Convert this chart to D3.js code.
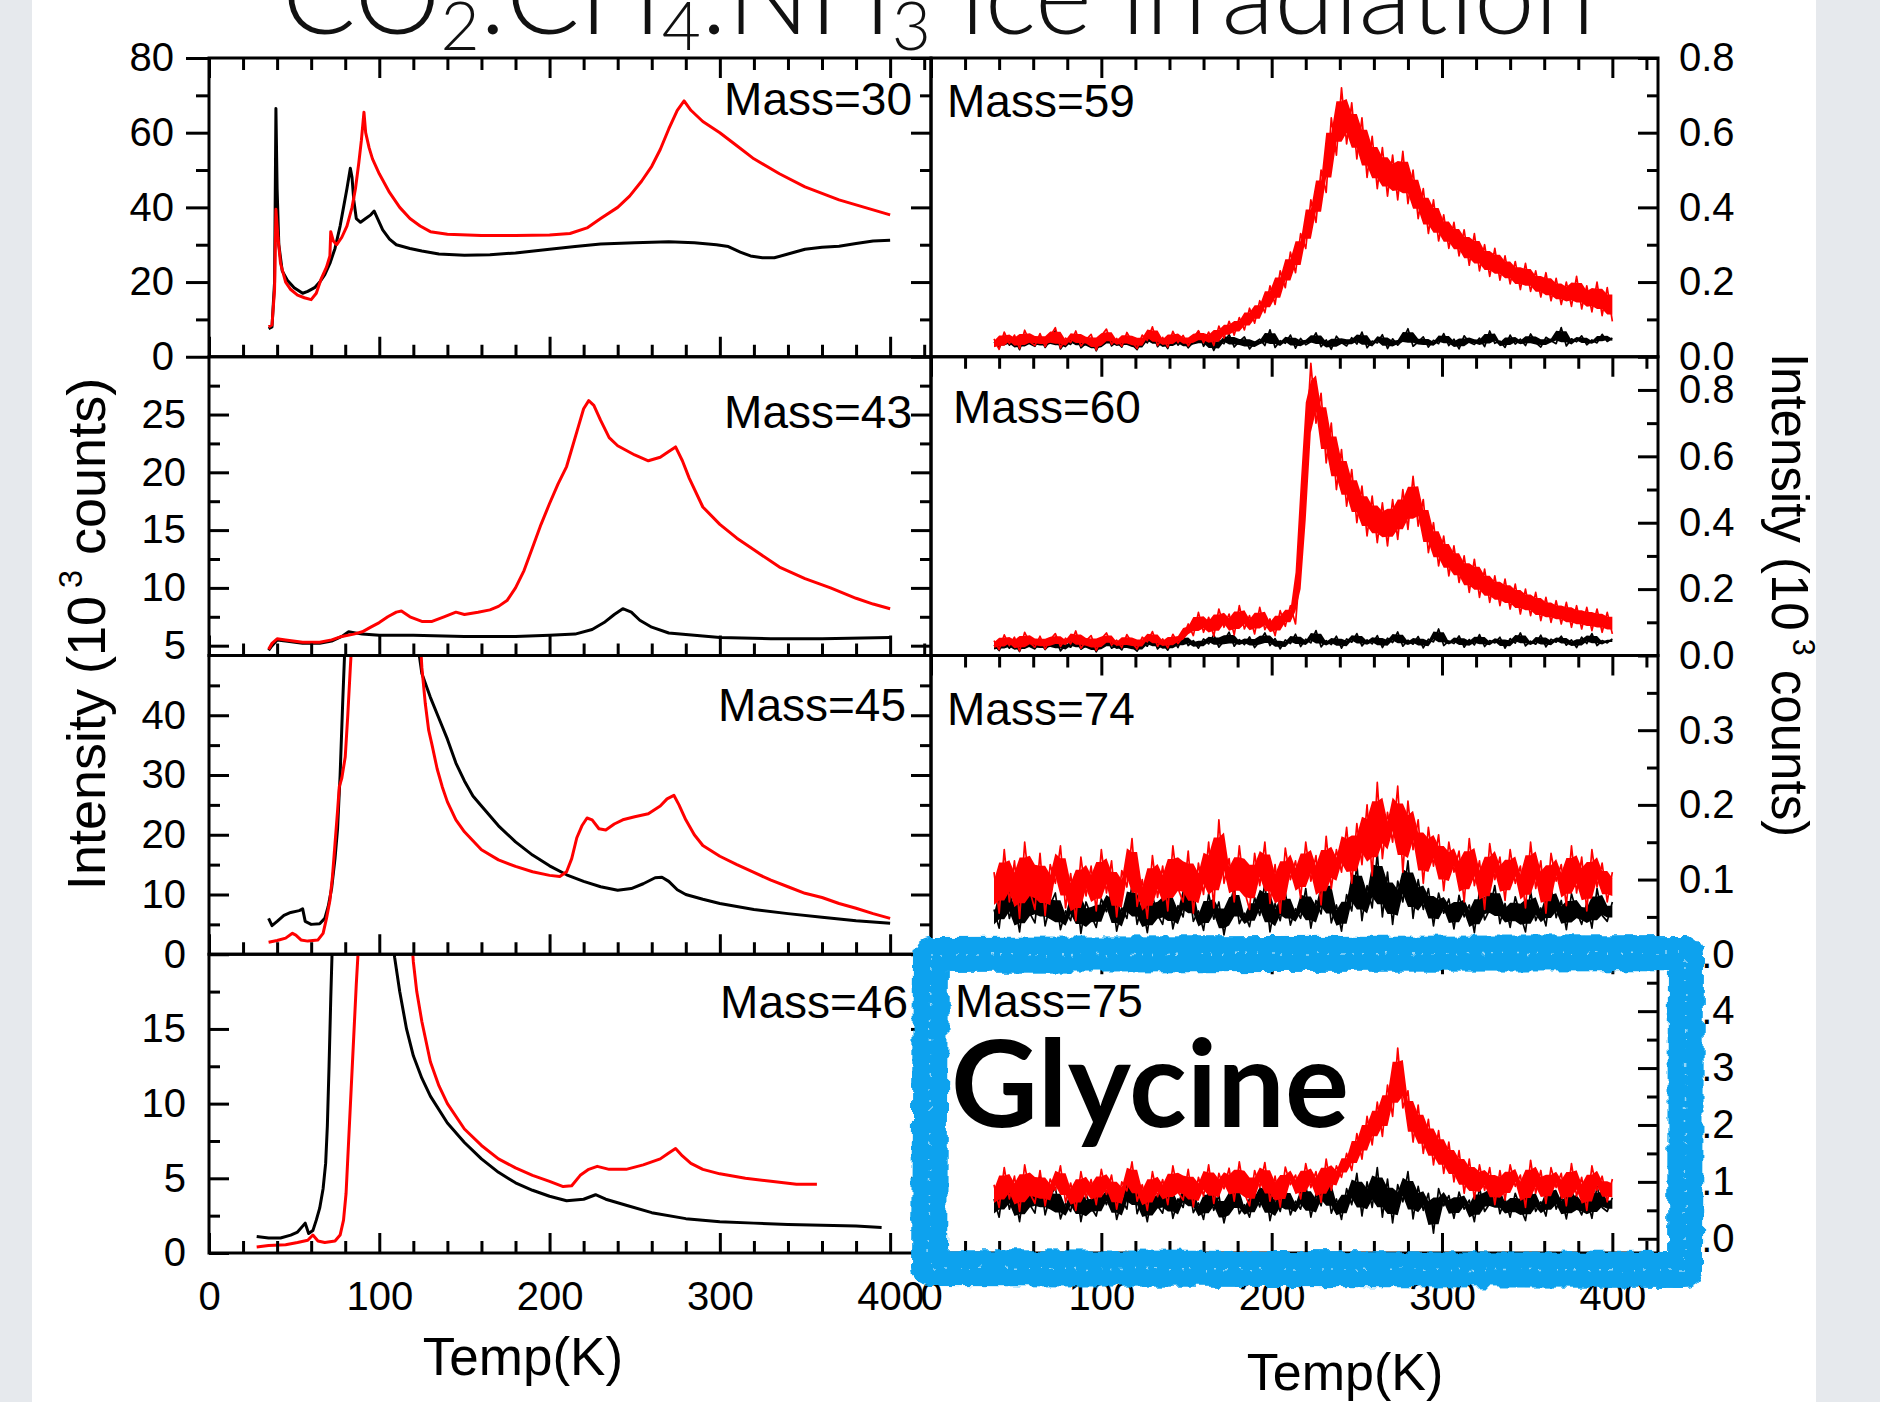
<!DOCTYPE html>
<html>
<head>
<meta charset="utf-8">
<script src="https://cdn.jsdelivr.net/npm/d3@7"></script>
<style>
  body { margin: 0; background: #fff; }
  svg { display: block; }
</style>
</head>
<body>
<div id="chart"></div>
<script>
// ---- data (intensity in 10^3 counts, temperature in K) ----

// left column: [T, intensity] pairs
var m30Black = [[35,7.5],[37,8],[38.5,20],[39.3,66.5],[40,45],[41,30],[43,23],[46,20.5],[50,18.5],[55,17],[58,17.5],[62,18.5],[65,20],[68,22],[71,25],[74,29],[77,35],[79,40],[81,45],[83,50.5],[84,48],[85,42],[86.5,37],[89,36],[92,37],[95,38],[97,39],[99,37],[102,34],[106,31.5],[110,30],[118,29],[125,28.3],[135,27.5],[150,27.2],[165,27.3],[180,27.8],[200,28.8],[215,29.5],[230,30.2],[250,30.5],[270,30.8],[285,30.5],[298,30],[305,29.5],[312,28],[318,27],[325,26.5],[332,26.5],[340,27.5],[350,28.8],[360,29.3],[370,29.6],[380,30.3],[390,31],[400,31.2]];
var m30Red = [[35,8],[37,8.5],[38.5,18],[39.3,39.5],[40.5,32],[42,25],[45,20],[48,18],[52,16.5],[56,15.8],[60,15.3],[63,17],[66,21],[69,24],[71,27],[71.5,33.5],[73,31],[75,30],[78,32],[81,35],[84,40],[86,45],[88,52],[89.5,58],[91,65.5],[92,60],[94,56],[96,53],[100,49],[106,44],[112,40],[118,37],[124,35],[130,33.5],[140,32.8],[160,32.5],[180,32.5],[200,32.6],[212,33],[222,34.5],[230,37],[240,40],[247,43],[254,47],[260,51],[265,55.5],[270,61],[275,66],[279,68.5],[283,66],[290,63],[300,60],[310,56.5],[320,53],[335,49],[350,45.5],[370,42],[385,40],[400,38]];

var m43Black = [[35,4.6],[37,5.0],[40,5.5],[45,5.4],[55,5.2],[65,5.2],[72,5.4],[78,5.8],[82,6.2],[90,6.0],[100,5.9],[120,5.9],[150,5.8],[180,5.8],[200,5.9],[215,6.0],[225,6.4],[232,7.0],[238,7.7],[243,8.2],[248,7.9],[253,7.2],[260,6.6],[270,6.1],[285,5.9],[300,5.7],[330,5.6],[360,5.6],[400,5.7]];
var m43Red = [[35,4.7],[37,5.2],[40,5.6],[45,5.5],[55,5.3],[65,5.3],[72,5.5],[78,5.8],[85,6.0],[90,6.2],[95,6.6],[100,7.0],[105,7.5],[110,7.9],[113,8.0],[118,7.5],[125,7.1],[131,7.1],[138,7.5],[145,7.9],[150,7.7],[158,7.9],[165,8.1],[170,8.4],[175,8.9],[180,10],[185,11.5],[190,13.5],[195,15.5],[200,17.3],[205,19],[210,20.5],[213,22],[217,24],[220,25.5],[223,26.2],[226,25.8],[230,24.5],[235,23],[240,22.3],[250,21.5],[258,21],[265,21.3],[270,21.8],[274,22.2],[278,21],[282,19.5],[290,17],[300,15.5],[310,14.3],[320,13.3],[335,11.8],[350,10.8],[365,10],[380,9.1],[390,8.6],[400,8.2]];

var m45Black = [[35,6],[37,4.8],[40,5.5],[44,6.5],[48,7],[53,7.3],[55,7.6],[56.5,5.5],[60,5],[65,5.1],[68,6],[70,8],[72,11],[74,16],[75.5,21],[77,30],[78.5,42],[80,53],[122,53],[125,47],[130,43],[135,39.5],[140,36],[145,32],[150,29],[155,26.5],[160,24.8],[170,21.5],[180,18.8],[190,16.6],[200,14.8],[210,13.3],[220,12.2],[230,11.3],[240,10.7],[248,11],[255,11.8],[262,12.8],[266,12.9],[270,12.2],[275,10.8],[280,10],[290,9.2],[300,8.5],[320,7.5],[340,6.8],[360,6.2],[380,5.6],[400,5.2]];
var m45Red = [[35,2],[40,2.3],[45,2.7],[49,3.5],[51,3.2],[54,2.4],[58,2.2],[64,2.4],[67,3.5],[69,6],[71,9],[72.5,13],[74,18.5],[75.5,24],[76.5,28],[78,29.5],[80,33],[81.5,40],[83,48],[84,53],[124,53],[125,48],[127,42],[129,37.5],[131,35],[134,31],[137,28],[140,25.5],[145,22.5],[150,20.5],[155,19],[160,17.5],[170,15.8],[180,14.7],[190,13.8],[200,13.2],[206,13],[210,13.8],[213,16],[216,19.5],[219,21.5],[222,22.8],[225,22.5],[229,21],[233,20.8],[238,21.8],[243,22.5],[250,23],[258,23.5],[265,24.8],[269,26],[273,26.6],[276,25],[280,22.5],[285,20],[290,18.2],[300,16.4],[310,15],[320,13.7],[330,12.4],[340,11.3],[350,10.2],[360,9.5],[370,8.5],[380,7.7],[390,6.8],[400,6]];

var m46Black = [[28,1.1],[35,1.0],[42,1.0],[48,1.2],[52,1.4],[55,1.8],[56.5,2.0],[58.5,1.3],[61,1.5],[63,2.2],[65,3],[67,4.3],[68.5,6],[69.5,8.5],[70.5,12.5],[71.5,17],[72.5,21],[108,21],[109,19.8],[112,17.5],[116,15],[120,13.2],[125,11.7],[130,10.5],[140,8.7],[150,7.4],[160,6.3],[170,5.4],[180,4.7],[190,4.2],[200,3.8],[210,3.5],[220,3.6],[227,3.9],[233,3.6],[245,3.2],[260,2.7],[280,2.3],[300,2.1],[320,2.0],[340,1.9],[360,1.85],[380,1.8],[395,1.7]];
var m46Red = [[28,0.4],[35,0.5],[45,0.55],[52,0.7],[58,0.85],[61,1.2],[64,0.8],[68,0.7],[74,0.8],[77,1.2],[79,2.2],[80.5,4],[82,7.5],[83.5,11],[85,14.5],[86.5,18],[88,21],[119,21],[120,19.5],[122,17.5],[125,15.5],[130,12.8],[135,11.2],[140,10],[150,8.3],[160,7.2],[170,6.3],[180,5.7],[190,5.2],[200,4.8],[208,4.45],[213,4.5],[218,5.2],[223,5.6],[228,5.8],[235,5.6],[245,5.6],[255,5.9],[265,6.3],[270,6.7],[274,7.0],[278,6.5],[283,6.0],[290,5.6],[300,5.3],[315,5.0],[330,4.8],[345,4.6],[357,4.6]];

// right column: evenly sampled scans from scanStart to scanEnd, in counts
var scanStart = 37, scanEnd = 400;
var m59Black = [40,24,55,31,47,19,60,35,28,52, 25,44,70,21,41,33,58,24,36,50, 16,45,62,29,40,26,54,33,19,48, 37,65,27,43,22,57,31,46,24,39, 68,28,50,17,44,35,60,26,41,53, 21,38,47,30,72,25,43,36,58,23, 49,32,40,64,27,45,20,55,38,29, 51,34,66,24,42,37,59,22,48,31, 45,75,28,40,53,26,44,35,62,30, 47,21,56,39,33,50,27,69,36,42, 25,58,34,47,30,61,38,26,52,43, 35,78,29,48,40,56,32,45,37,60, 41,50];
var m59Red = [48,20,66,35,58,22,71,40,30,62, 27,55,78,24,50,38,69,29,45,60, 18,56,74,33,49,28,65,40,22,58, 44,80,30,52,26,68,38,57,29,50, 70,38,66,30,82,50,95,58,105,72, 130,90,150,118,190,140,230,185,280,225, 330,290,420,360,500,440,640,540,720,570, 680,530,640,480,590,450,560,430,540,420, 550,410,500,370,450,330,420,310,380,290, 360,270,340,245,330,230,300,215,290,205, 270,195,255,180,250,175,230,160,225,150, 210,140,200,135,215,128,190,120,200,110, 185,95];
var m60Black = [32,15,45,22,38,12,50,27,20,41, 18,35,55,14,33,25,48,19,29,40, 11,37,52,22,31,17,44,26,13,39, 28,58,20,36,16,47,24,60,30,45, 22,50,35,62,25,44,70,28,48,33, 56,24,42,68,30,51,20,47,36,64, 27,49,38,75,26,45,33,58,22,50, 40,66,29,47,35,60,24,52,39,71, 28,46,34,57,23,49,41,80,30,44, 36,59,25,48,32,63,27,45,38,55, 22,51,37,68,29,43,34,61,26,49, 40,58,31,47,24,55,36,66,30,45, 38,50];
var m60Red = [45,18,62,30,55,14,70,38,25,58, 20,48,66,27,52,35,74,22,44,60, 15,50,68,31,46,24,63,38,20,55, 41,72,28,50,23,64,36,56,95,60, 130,70,115,58,140,85,125,62,150,80, 120,65,145,78,110,60,135,88,150,95, 290,620,880,700,790,580,700,500,620,450, 560,400,510,360,480,340,460,330,470,350, 500,380,540,390,470,310,400,270,360,240, 330,220,300,190,290,175,260,160,240,150, 230,140,215,125,200,120,190,105,175,100, 165,95,160,85,150,80,145,75,140,70, 130,65];
var m74Black = [60,35,95,48,72,30,88,55,42,100, 38,66,82,33,58,45,90,28,70,52, 36,74,57,85,31,62,48,93,40,67, 29,78,53,40,86,34,65,50,98,44, 58,32,81,47,70,26,63,89,41,55, 37,76,52,95,30,68,45,83,39,61, 48,88,35,72,54,104,42,66,31,80, 58,120,45,92,62,135,50,110,40,98, 70,125,48,100,60,88,38,82,55,74, 34,79,50,66,29,85,46,60,92,41, 68,36,77,53,30,84,45,62,38,90, 49,72,33,81,57,40,69,35,88,52, 44,70];
var m74Red = [110,55,140,70,125,48,150,85,60,135, 52,120,95,145,62,108,45,130,78,118, 58,140,82,125,50,112,90,155,64,100, 48,132,76,118,58,145,88,70,138,55, 122,80,150,62,180,95,128,70,145,85, 60,135,92,150,68,120,55,142,100,125, 75,150,98,132,66,158,88,140,110,170, 95,175,120,200,105,230,128,190,150,225, 110,205,140,180,95,170,118,160,85,150, 110,138,70,155,92,125,60,148,100,130, 72,140,95,118,62,150,88,125,55,135, 98,120,65,145,82,130,58,140,90,122, 70,110];
var m75Black = [70,38,105,52,80,30,95,60,45,110, 42,75,90,35,62,48,98,30,78,55, 40,82,60,92,34,68,52,120,44,72, 30,85,58,45,95,36,70,55,102,46, 63,34,88,50,76,28,68,95,44,60, 38,82,56,100,32,72,48,90,42,66, 52,95,38,78,58,110,45,70,34,88, 60,115,40,100,55,125,38,105,28,95, 65,118,35,92,50,80,10,88,58,76, 36,82,52,68,30,90,48,62,97,44, 70,38,80,55,32,88,48,65,40,95, 52,75,35,85,60,42,72,36,92,55, 48,72];
var m75Red = [95,55,125,70,110,48,130,80,62,120, 58,105,85,128,64,98,50,118,72,104, 60,122,78,112,52,100,84,135,66,95, 50,118,74,104,60,128,82,68,122,56, 108,75,130,62,115,88,124,66,135,80, 58,120,90,134,66,110,56,126,95,112, 70,132,90,118,64,140,85,128,108,150, 120,185,140,215,165,240,180,270,215,335, 230,260,170,235,150,210,130,190,115,170, 100,155,80,140,70,130,85,125,60,120, 68,130,92,112,55,138,80,120,62,125, 90,115,58,132,75,108,50,128,85,110, 65,105];

// tick values
var tempMajor = [0, 100, 200, 300, 400];
var tempMinor = [20, 40, 60, 80, 120, 140, 160, 180, 220, 240, 260, 280, 320, 340, 360, 380, 420];
var m30Ticks = [0, 20, 40, 60, 80],   m30Minor = [10, 30, 50, 70];
var m43Ticks = [5, 10, 15, 20, 25],   m43Minor = [7.5, 12.5, 17.5, 22.5, 27.5];
var m45Ticks = [0, 10, 20, 30, 40],   m45Minor = [5, 15, 25, 35, 45];
var m46Ticks = [0, 5, 10, 15],        m46Minor = [2.5, 7.5, 12.5, 17.5];
var m59Ticks = [0, 0.2, 0.4, 0.6, 0.8], m59Minor = [0.1, 0.3, 0.5, 0.7];
var m60Ticks = [0, 0.2, 0.4, 0.6, 0.8], m60Minor = [0.1, 0.3, 0.5, 0.7];
var m74Ticks = [0, 0.1, 0.2, 0.3],    m74Minor = [0.05, 0.15, 0.25, 0.35];
var m75Ticks = [0, 0.1, 0.2, 0.3, 0.4], m75Minor = [0.05, 0.15, 0.25, 0.35, 0.45];

// ---- layout ----
var W = 1880, H = 1402;
var FONT = "'Liberation Sans', Arial, Helvetica, sans-serif";
var rowTop = [58, 356.75, 655.5, 954.25], rowH = 298.75;

var svg = d3.select("#chart").append("svg")
  .attr("width", W)
  .attr("height", H);

var defs = svg.append("defs");
var rough = defs.append("filter").attr("id", "rough")
  .attr("x", "-10%").attr("y", "-10%").attr("width", "120%").attr("height", "120%");
rough.append("feTurbulence").attr("type", "fractalNoise").attr("baseFrequency", 0.09)
  .attr("numOctaves", 2).attr("seed", 7).attr("result", "noise");
rough.append("feDisplacementMap").attr("in", "SourceGraphic").attr("in2", "noise")
  .attr("scale", 9).attr("xChannelSelector", "R").attr("yChannelSelector", "G");

// slide background + white card
svg.append("rect").attr("width", W).attr("height", H).attr("fill", "#e6e9ed");
svg.append("rect").attr("x", 32).attr("y", 0).attr("width", 1784).attr("height", H).attr("fill", "#fff");

var leftX = d3.scaleLinear().domain([0, 424]).range([209, 931]);
var rightX = d3.scaleLinear().domain([0, 426.8]).range([931, 1658]);

function scanPoints(vals) {
  var step = (scanEnd - scanStart) / (vals.length - 1);
  return vals.map((v, i) => [scanStart + i * step, v / 1000]);
}

// the dense core of a noisy scan: local min/max of neighbouring samples, trimmed a little
function scanCore(pts) {
  return pts.map(function(d, i) {
    var w = pts.slice(Math.max(0, i - 1), i + 2).map(e => e[1]);
    var lo = d3.min(w), hi = d3.max(w), pad = 0.2 * (hi - lo);
    return [d[0], lo + pad, hi - pad];
  });
}

var panels = [
  {id: "p30", col: "L", row: 0, dom: [0, 80],     ticks: m30Ticks, minor: m30Minor, out: true,  mass: "Mass=30", mx: 912, my: 115,  black: m30Black, red: m30Red},
  {id: "p43", col: "L", row: 1, dom: [4.15, 30],  ticks: m43Ticks, minor: m43Minor, out: false, mass: "Mass=43", mx: 912, my: 428,  black: m43Black, red: m43Red},
  {id: "p45", col: "L", row: 2, dom: [0, 50],     ticks: m45Ticks, minor: m45Minor, out: false, mass: "Mass=45", mx: 906, my: 721,  black: m45Black, red: m45Red},
  {id: "p46", col: "L", row: 3, dom: [0, 20],     ticks: m46Ticks, minor: m46Minor, out: false, mass: "Mass=46", mx: 908, my: 1018, black: m46Black, red: m46Red},
  {id: "p59", col: "R", row: 0, dom: [0, 0.8],    ticks: m59Ticks, minor: m59Minor, mass: "Mass=59", mx: 947, my: 117,  black: scanPoints(m59Black), red: scanPoints(m59Red)},
  {id: "p60", col: "R", row: 1, dom: [0, 0.9],    ticks: m60Ticks, minor: m60Minor, mass: "Mass=60", mx: 953, my: 423,  black: scanPoints(m60Black), red: scanPoints(m60Red)},
  {id: "p74", col: "R", row: 2, dom: [0, 0.4],    ticks: m74Ticks, minor: m74Minor, mass: "Mass=74", mx: 947, my: 725,  black: scanPoints(m74Black), red: scanPoints(m74Red)},
  {id: "p75", col: "R", row: 3, dom: [-0.025, 0.5], ticks: m75Ticks, minor: m75Minor, mass: "Mass=75", mx: 955, my: 1017, black: scanPoints(m75Black), red: scanPoints(m75Red)}
];

function styleAxis(g) {
  g.attr("font-size", 40).attr("font-family", FONT);
  g.select(".domain").remove();
  g.selectAll(".tick line").attr("stroke", "#000").attr("stroke-width", 3);
  g.selectAll(".tick text").attr("fill", "#000");
}

panels.forEach(function(p) {
  var x = p.col === "L" ? leftX : rightX;
  var top = rowTop[p.row], bot = top + rowH;
  var x0 = x.range()[0], x1 = x.range()[1];
  var y = d3.scaleLinear().domain(p.dom).range([bot, top]);

  defs.append("clipPath").attr("id", "clip-" + p.id)
    .append("rect").attr("x", x0).attr("y", top).attr("width", x1 - x0).attr("height", rowH);

  var line = d3.line().x(d => x(d[0])).y(d => y(d[1]));
  var plot = svg.append("g").attr("clip-path", "url(#clip-" + p.id + ")");

  if (p.col === "L") {
    [[p.black, "#000"], [p.red, "#ff0000"]].forEach(function(s) {
      plot.append("path").datum(s[0]).attr("d", line)
        .attr("fill", "none").attr("stroke", s[1]).attr("stroke-width", 3)
        .attr("stroke-linejoin", "round");
    });
  } else {
    var core = d3.area().x(d => x(d[0])).y0(d => y(d[1])).y1(d => y(d[2]));
    [[p.black, "#000"], [p.red, "#ff0000"]].forEach(function(s) {
      plot.append("path").datum(scanCore(s[0])).attr("d", core)
        .attr("fill", s[1]).attr("stroke", "none");
      plot.append("path").datum(s[0]).attr("d", line)
        .attr("fill", "none").attr("stroke", s[1]).attr("stroke-width", 1.7)
        .attr("stroke-linejoin", "round");
    });
  }

  var fmt = p.col === "L" ? d3.format("d") : d3.format(".1f");

  if (p.col === "L") {
    var big = p.out ? 23 : -20, small = p.out ? 13 : -11;
    svg.append("g").attr("transform", `translate(${x0},0)`)
      .call(d3.axisLeft(y).tickValues(p.ticks).tickSize(big).tickPadding(p.out ? 12 : 23).tickFormat(fmt))
      .call(styleAxis);
    svg.append("g").attr("transform", `translate(${x0},0)`)
      .call(d3.axisLeft(y).tickValues(p.minor).tickSize(small).tickFormat(""))
      .call(styleAxis);
    // mirrored ticks on the right edge
    svg.append("g").attr("transform", `translate(${x1},0)`)
      .call(d3.axisRight(y).tickValues(p.ticks).tickSize(-20).tickFormat(""))
      .call(styleAxis);
    svg.append("g").attr("transform", `translate(${x1},0)`)
      .call(d3.axisRight(y).tickValues(p.minor).tickSize(-11).tickFormat(""))
      .call(styleAxis);
    // bottom temperature ticks
    svg.append("g").attr("transform", `translate(0,${bot})`)
      .call(d3.axisBottom(x).tickValues(tempMajor).tickSize(-20).tickPadding(29)
        .tickFormat(p.row === 3 ? d3.format("d") : ""))
      .call(styleAxis);
    svg.append("g").attr("transform", `translate(0,${bot})`)
      .call(d3.axisBottom(x).tickValues(tempMinor).tickSize(-12).tickFormat(""))
      .call(styleAxis);
    if (p.row === 0) {
      svg.append("g").attr("transform", `translate(0,${top})`)
        .call(d3.axisTop(x).tickValues(tempMajor).tickSize(-20).tickFormat(""))
        .call(styleAxis);
      svg.append("g").attr("transform", `translate(0,${top})`)
        .call(d3.axisTop(x).tickValues(tempMinor).tickSize(-12).tickFormat(""))
        .call(styleAxis);
    }
  } else {
    svg.append("g").attr("transform", `translate(${x1},0)`)
      .call(d3.axisRight(y).tickValues(p.ticks).tickSize(-20).tickPadding(21).tickFormat(fmt))
      .call(styleAxis);
    svg.append("g").attr("transform", `translate(${x1},0)`)
      .call(d3.axisRight(y).tickValues(p.minor).tickSize(-11).tickFormat(""))
      .call(styleAxis);
    svg.append("g").attr("transform", `translate(0,${top})`)
      .call(d3.axisTop(x).tickValues(tempMajor).tickSize(-20).tickFormat(""))
      .call(styleAxis);
    svg.append("g").attr("transform", `translate(0,${top})`)
      .call(d3.axisTop(x).tickValues(tempMinor).tickSize(-12).tickFormat(""))
      .call(styleAxis);
    if (p.row === 3) {
      svg.append("g").attr("transform", `translate(0,${bot})`)
        .call(d3.axisBottom(x).tickValues(tempMajor).tickSize(-20).tickPadding(29).tickFormat(d3.format("d")))
        .call(styleAxis);
      svg.append("g").attr("transform", `translate(0,${bot})`)
        .call(d3.axisBottom(x).tickValues(tempMinor).tickSize(-12).tickFormat(""))
        .call(styleAxis);
    }
  }

  // frame
  svg.append("rect").attr("x", x0).attr("y", top).attr("width", x1 - x0).attr("height", rowH)
    .attr("fill", "none").attr("stroke", "#000").attr("stroke-width", 3);

  svg.append("text")
    .attr("x", p.mx).attr("y", p.my)
    .attr("text-anchor", p.col === "L" ? "end" : "start")
    .attr("font-family", FONT).attr("font-size", 46)
    .text(p.mass);
});

// axis titles
function intensityTitle(transform, size) {
  var t = svg.append("text").attr("transform", transform).attr("text-anchor", "middle")
    .attr("font-family", FONT).attr("font-size", size);
  t.append("tspan").text("Intensity (10");
  t.append("tspan").attr("font-size", size * 0.6).attr("dx", 8).attr("dy", -size * 0.42).text("3");
  t.append("tspan").attr("dy", size * 0.42).text(" counts)");
}
intensityTitle("translate(105,634) rotate(-90)", 54);
intensityTitle("translate(1772,595) rotate(90)", 51);

svg.append("text").attr("x", 523).attr("y", 1375).attr("text-anchor", "middle")
  .attr("font-family", FONT).attr("font-size", 53).text("Temp(K)");
svg.append("text").attr("x", 1345).attr("y", 1390).attr("text-anchor", "middle")
  .attr("font-family", FONT).attr("font-size", 52).text("Temp(K)");

// slide title (cut at the top edge), fitted to its width in the slide
function drawTitle(fs) {
  var t = svg.append("text").attr("class", "title").attr("x", 282).attr("y", 34)
    .attr("font-family", "Lato, 'Open Sans', sans-serif").attr("font-weight", 300)
    .attr("font-size", fs).attr("fill", "#111");
  var parts = [["CO", false], ["2", true], [":CH", false], ["4", true], [":NH", false], ["3", true], [" ice irradiation", false]];
  parts.forEach(function(pt) {
    var s = t.append("tspan").text(pt[0]);
    if (pt[1]) s.attr("font-size", fs * 0.62).attr("dy", fs * 0.15);
    else if (pt[0] !== "CO") s.attr("dy", -fs * 0.15);
  });
  return t;
}
var t0 = drawTitle(100);
var tl = t0.node().getComputedTextLength();
t0.remove();
drawTitle(100 * 1313 / tl);

// glycine call-out
var gly = svg.append("text").attr("x", 951).attr("y", 1127)
  .attr("font-family", "Lato, 'Open Sans', sans-serif").attr("font-weight", 700)
  .attr("font-size", 120).attr("fill", "#000").text("Glycine");
var gl = gly.node().getComputedTextLength();
gly.attr("font-size", 120 * 398 / gl);

// hand-drawn blue box
var box = d3.path();
box.moveTo(931, 955); box.lineTo(1686, 953); box.lineTo(1685, 1270); box.lineTo(929, 1268); box.closePath();
svg.append("path").attr("d", box.toString())
  .attr("fill", "none").attr("stroke", "#0aa2ee").attr("stroke-width", 36)
  .attr("stroke-linejoin", "round").attr("filter", "url(#rough)");
svg.append("path").attr("d", box.toString())
  .attr("fill", "none").attr("stroke", "#fff").attr("stroke-opacity", 0.55).attr("stroke-width", 1.5)
  .attr("stroke-dasharray", "2 9 1 13 3 7").attr("filter", "url(#rough)");
</script>
</body>
</html>
